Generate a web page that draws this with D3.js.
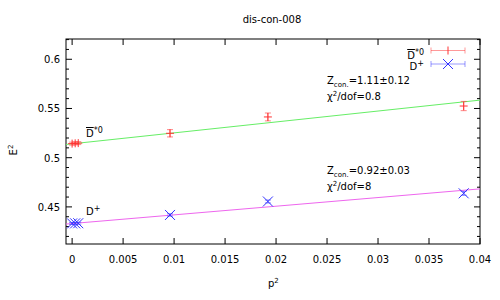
<!DOCTYPE html>
<html>
<head>
<meta charset="utf-8">
<script src="https://cdn.jsdelivr.net/npm/d3@7"></script>
<style>
body { margin: 0; background: #fff; }
text { font-family: "DejaVu Sans", sans-serif; font-size: 10px; fill: #000; }
</style>
</head>
<body>
<div id="chart"></div>
<script>
// data
var p2Dstar = [0, 0.0003, 0.0006, 0.0096, 0.0192, 0.0384];
var eDstar = [0.5143, 0.5146, 0.5148, 0.5248, 0.5414, 0.5525];
var errDstar = [0.0015, 0.0015, 0.0015, 0.0037, 0.004, 0.0047];

var p2Dplus = [0, 0.0003, 0.0006, 0.0096, 0.0192, 0.0384];
var eDplus = [0.4332, 0.4333, 0.4334, 0.4418, 0.4555, 0.4638];
var errDplus = [0.001, 0.001, 0.001, 0.0012, 0.0015, 0.002];

// fit lines: [intercept, slope]
var fitDstar = [0.5141, 1.11];
var fitDplus = [0.4331, 0.88];

var xTicks = [0, 0.005, 0.01, 0.015, 0.02, 0.025, 0.03, 0.035, 0.04];
var yTicks = [0.45, 0.5, 0.55, 0.6];
var yMinor = d3.range(0.42, 0.625, 0.01);

var w = 500, h = 300;
var mLeft = 66, mRight = 480, mTop = 39, mBottom = 244;

var svg = d3.select("#chart").append("svg")
    .attr("width", w).attr("height", h);

var x = d3.scaleLinear().domain([-0.0006, 0.04]).range([mLeft, mRight]);
var y = d3.scaleLinear().domain([0.4123, 0.6206]).range([mBottom, mTop]);

// frame
svg.append("rect")
    .attr("x", mLeft).attr("y", mTop)
    .attr("width", mRight - mLeft).attr("height", mBottom - mTop)
    .attr("fill", "none").attr("stroke", "#000").attr("stroke-width", 1);

// ticks (inward, mirrored)
var tk = svg.append("g").attr("stroke", "#000").attr("stroke-width", 1);
xTicks.forEach(function(t) {
    tk.append("line").attr("x1", x(t)).attr("x2", x(t)).attr("y1", mBottom).attr("y2", mBottom - 6);
    tk.append("line").attr("x1", x(t)).attr("x2", x(t)).attr("y1", mTop).attr("y2", mTop + 6);
});
yMinor.forEach(function(t) {
    var major = yTicks.some(function(m) { return Math.abs(m - t) < 1e-6; });
    var len = major ? 6 : 3;
    tk.append("line").attr("x1", mLeft).attr("x2", mLeft + len).attr("y1", y(t)).attr("y2", y(t));
    tk.append("line").attr("x1", mRight).attr("x2", mRight - len).attr("y1", y(t)).attr("y2", y(t));
});

svg.selectAll(".xl").data(xTicks).enter().append("text")
    .attr("x", function(d) { return x(d); })
    .attr("y", 263)
    .attr("text-anchor", "middle")
    .text(function(d) { return d; });

svg.selectAll(".yl").data(yTicks).enter().append("text")
    .attr("x", mLeft - 6)
    .attr("y", function(d) { return y(d) + 4; })
    .attr("text-anchor", "end")
    .text(function(d) { return d; });

// title and axis labels
svg.append("text").attr("x", 272).attr("y", 23).attr("text-anchor", "middle").text("dis-con-008");

var xl = svg.append("text").attr("x", 268).attr("y", 287);
xl.append("tspan").text("p");
xl.append("tspan").attr("dy", -4).attr("font-size", "7px").text("2");

var yl = svg.append("text").attr("transform", "translate(17,150) rotate(-90)").attr("text-anchor", "middle");
yl.append("tspan").text("E");
yl.append("tspan").attr("dy", -4).attr("font-size", "7px").text("2");

// fit lines
function fitLine(f, color) {
    var d = x.domain();
    svg.append("line")
        .attr("x1", x(d[0])).attr("y1", y(f[0] + f[1] * d[0]))
        .attr("x2", x(d[1])).attr("y2", y(f[0] + f[1] * d[1]))
        .attr("stroke", color).attr("stroke-width", 1);
}
fitLine(fitDstar, "#66ee66");
fitLine(fitDplus, "#ee66ee");

// error bars + markers
function series(px, py, pe, color, marker) {
    var g = svg.append("g").attr("stroke", color).attr("stroke-width", 1);
    px.forEach(function(v, i) {
        var cx = x(v), cy = y(py[i]);
        var lo = y(py[i] - pe[i]), hi = y(py[i] + pe[i]);
        var eb = g.append("g").attr("stroke-opacity", 0.6);
        eb.append("line").attr("x1", cx).attr("x2", cx).attr("y1", lo).attr("y2", hi);
        eb.append("line").attr("x1", cx - 3).attr("x2", cx + 3).attr("y1", lo).attr("y2", lo);
        eb.append("line").attr("x1", cx - 3).attr("x2", cx + 3).attr("y1", hi).attr("y2", hi);
        if (marker === "plus") {
            g.append("line").attr("x1", cx - 4).attr("x2", cx + 4).attr("y1", cy).attr("y2", cy);
            g.append("line").attr("x1", cx).attr("x2", cx).attr("y1", cy - 4).attr("y2", cy + 4);
        } else {
            g.append("line").attr("x1", cx - 5).attr("x2", cx + 5).attr("y1", cy - 5).attr("y2", cy + 5);
            g.append("line").attr("x1", cx - 5).attr("x2", cx + 5).attr("y1", cy + 5).attr("y2", cy - 5);
        }
    });
}
series(p2Dstar, eDstar, errDstar, "#ff3333", "plus");
series(p2Dplus, eDplus, errDplus, "#3333ff", "cross");

// labels near the curves
function dstarLabel(tx, ty, anchor) {
    var t = svg.append("text").attr("x", tx).attr("y", ty).attr("text-anchor", anchor || "start");
    t.append("tspan").attr("text-decoration", "overline").text("D");
    t.append("tspan").attr("dy", -4).attr("font-size", "8px").text("*0");
    return t;
}
function dplusLabel(tx, ty, anchor) {
    var t = svg.append("text").attr("x", tx).attr("y", ty).attr("text-anchor", anchor || "start");
    t.append("tspan").text("D");
    t.append("tspan").attr("dy", -4).attr("font-size", "8px").text("+");
    return t;
}
dstarLabel(86, 137);
dplusLabel(86, 215);

// legend
dstarLabel(424, 59, "end");
dplusLabel(424, 70, "end");
function legendSample(ly, color, marker) {
    var g = svg.append("g").attr("stroke", color).attr("stroke-width", 1);
    g.append("line").attr("x1", 431).attr("x2", 465).attr("y1", ly).attr("y2", ly).attr("stroke-opacity", 0.5);
    g.append("line").attr("x1", 431).attr("x2", 431).attr("y1", ly - 3).attr("y2", ly + 3).attr("stroke-opacity", 0.5);
    g.append("line").attr("x1", 465).attr("x2", 465).attr("y1", ly - 3).attr("y2", ly + 3).attr("stroke-opacity", 0.5);
    if (marker === "plus") {
        g.append("line").attr("x1", 448).attr("x2", 448).attr("y1", ly - 4).attr("y2", ly + 4);
    } else {
        g.append("line").attr("x1", 443).attr("x2", 453).attr("y1", ly - 5).attr("y2", ly + 5);
        g.append("line").attr("x1", 443).attr("x2", 453).attr("y1", ly + 5).attr("y2", ly - 5);
    }
}
legendSample(50.5, "#ff3333", "plus");
legendSample(64, "#3333ff", "cross");

// fit annotations
function annot(tx, ty, z, chi) {
    var t1 = svg.append("text").attr("x", tx).attr("y", ty);
    t1.append("tspan").text("Z");
    t1.append("tspan").attr("dy", 3).attr("font-size", "7px").text("con.");
    t1.append("tspan").attr("dy", -3).text("=" + z);
    var t2 = svg.append("text").attr("x", tx).attr("y", ty + 16);
    t2.append("tspan").text("χ");
    t2.append("tspan").attr("dy", -4).attr("font-size", "7px").text("2");
    t2.append("tspan").attr("dy", 4).text("/dof=" + chi);
}
annot(327, 84, "1.11±0.12", "0.8");
annot(327, 174, "0.92±0.03", "8");
</script>
</body>
</html>
